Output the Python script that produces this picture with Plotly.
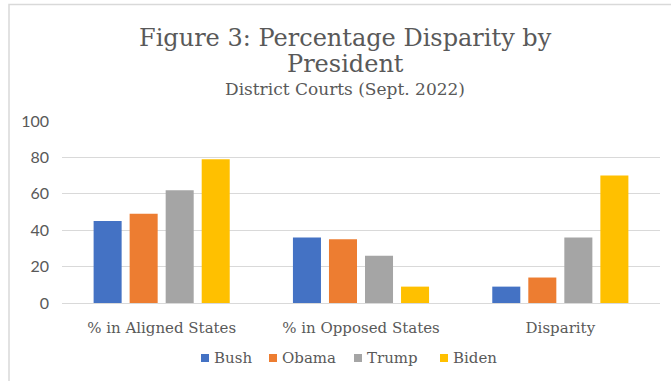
import plotly.graph_objects as go

categories = ["% in Aligned States", "% in Opposed States", "Disparity"]
presidents = ["Bush", "Obama", "Trump", "Biden"]
bush = [45, 36, 9]
obama = [49, 35, 14]
trump = [62, 26, 36]
biden = [79, 9, 70]
colors = ["#4472C4", "#ED7D31", "#A5A5A5", "#FFC000"]
y_ticks = [0, 20, 40, 60, 80, 100]

W, H = 671, 381
L, R, T, B = 62, 11, 121, 78
pw, ph = W - L - R, H - T - B


def px_x(x):
    return (x - L) / pw


def px_y(y):
    return (H - B - y) / ph


serif = "DejaVu Serif"
grey = "#595959"

fig = go.Figure()
for name, vals, col in zip(presidents, [bush, obama, trump, biden], colors):
    fig.add_trace(go.Bar(name=name, x=categories, y=vals, marker_color=col,
                         marker_line_width=0, showlegend=False))

fig.update_layout(
    width=W, height=H,
    margin=dict(l=L, r=R, t=T, b=B, pad=0),
    paper_bgcolor="white", plot_bgcolor="white",
    barmode="group", bargap=0.277, bargroupgap=0.222,
    xaxis=dict(showgrid=False, showline=False, ticks="", ticklabelstandoff=14,
               tickfont=dict(family=serif, size=15, color=grey)),
    yaxis=dict(range=[0, 100], tickvals=y_ticks, showgrid=True,
               gridcolor="#d9d9d9", gridwidth=1, zeroline=True,
               zerolinecolor="#d9d9d9", zerolinewidth=1, showline=False,
               ticks="", ticklabelstandoff=12,
               tickfont=dict(family="Lato", size=16, color=grey)),
)

# chart frame: only the left and top edges fall inside the view
fx0, fy0 = px_x(9), px_y(4.5)
fig.add_shape(type="path", xref="paper", yref="paper",
              path=f"M {fx0} {px_y(H)} L {fx0} {fy0} L {px_x(W)} {fy0}",
              line=dict(color="#d9d9d9", width=1.5), layer="below")

# legend: small square swatch followed by the name
legend_swatch_x = [201, 269, 354, 440]
legend_y = 358
for name, col, sx in zip(presidents, colors, legend_swatch_x):
    fig.add_shape(type="rect", xref="paper", yref="paper",
                  x0=px_x(sx), x1=px_x(sx + 8), y0=px_y(legend_y + 4), y1=px_y(legend_y - 4),
                  line_width=0, fillcolor=col)
    fig.add_annotation(text=name, xref="paper", yref="paper",
                       x=px_x(sx + 11), y=px_y(legend_y), xanchor="left", yanchor="middle",
                       showarrow=False, font=dict(family=serif, size=15, color=grey))

fig.add_annotation(text="Figure 3: Percentage Disparity by", xref="paper", yref="paper",
                   x=px_x(345), y=px_y(38), xanchor="center", yanchor="middle",
                   showarrow=False, font=dict(family=serif, size=24, color=grey))
fig.add_annotation(text="President", xref="paper", yref="paper",
                   x=px_x(345), y=px_y(64), xanchor="center", yanchor="middle",
                   showarrow=False, font=dict(family=serif, size=24, color=grey))
fig.add_annotation(text="District Courts (Sept. 2022)", xref="paper", yref="paper",
                   x=px_x(345), y=px_y(89), xanchor="center", yanchor="middle",
                   showarrow=False, font=dict(family=serif, size=17, color=grey))

fig.write_html("out.html")
